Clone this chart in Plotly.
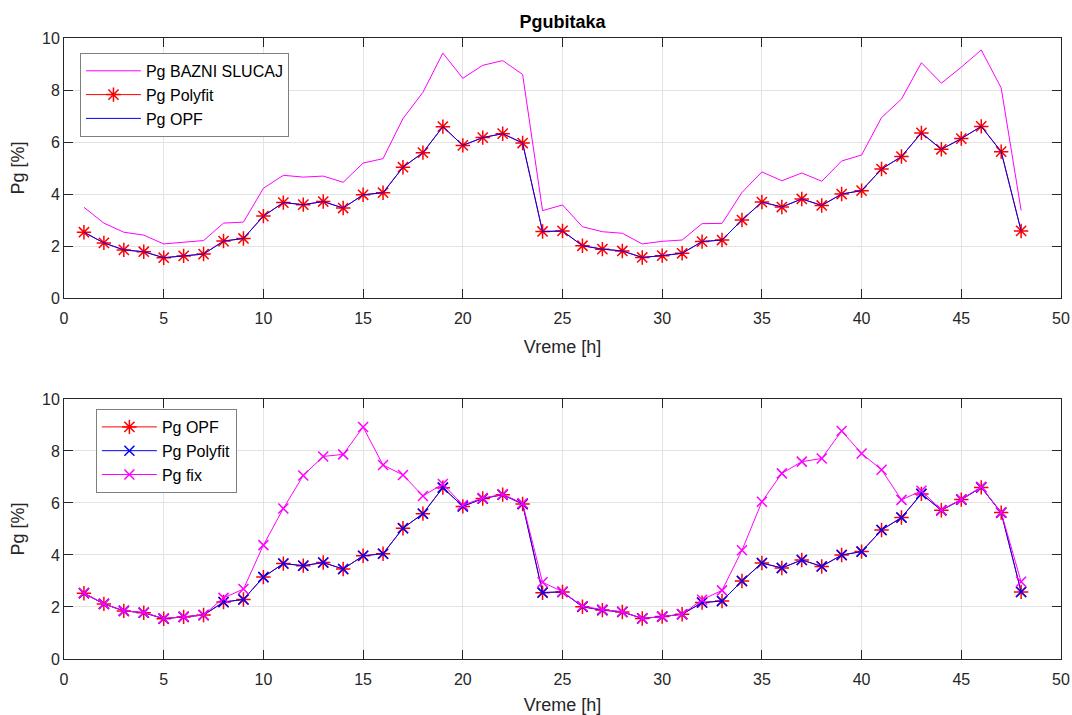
import plotly.graph_objects as go

hours = list(range(1, 49))

pg_bazni = [3.49, 2.88, 2.53, 2.42, 2.08, 2.14, 2.21, 2.88, 2.92, 4.22,
            4.72, 4.65, 4.69, 4.45, 5.19, 5.36, 6.90, 7.91, 9.42, 8.45,
            8.95, 9.13, 8.60, 3.36, 3.58, 2.74, 2.55, 2.49, 2.08, 2.18,
            2.23, 2.86, 2.87, 4.06, 4.85, 4.51, 4.81, 4.49, 5.27, 5.50,
            6.94, 7.65, 9.05, 8.26, 8.88, 9.54, 8.08, 3.37]

pg_opf = [2.53, 2.12, 1.85, 1.78, 1.55, 1.62, 1.69, 2.19, 2.29, 3.15,
          3.67, 3.59, 3.71, 3.46, 3.97, 4.05, 5.03, 5.59, 6.59, 5.87,
          6.17, 6.32, 5.96, 2.55, 2.58, 2.01, 1.88, 1.81, 1.56, 1.63,
          1.72, 2.17, 2.23, 3.00, 3.69, 3.50, 3.81, 3.56, 4.00, 4.13,
          4.96, 5.44, 6.35, 5.72, 6.13, 6.60, 5.63, 2.58]

pg_polyfit = [2.53, 2.12, 1.85, 1.78, 1.55, 1.62, 1.69, 2.19, 2.29, 3.15,
              3.67, 3.59, 3.71, 3.46, 3.97, 4.05, 5.03, 5.59, 6.59, 5.87,
              6.17, 6.32, 5.96, 2.56, 2.58, 2.01, 1.88, 1.81, 1.56, 1.63,
              1.72, 2.17, 2.23, 3.00, 3.69, 3.50, 3.81, 3.56, 4.00, 4.13,
              4.96, 5.44, 6.35, 5.72, 6.13, 6.60, 5.63, 2.58]

pg_fix = [2.54, 2.12, 1.85, 1.79, 1.56, 1.62, 1.69, 2.35, 2.69, 4.38,
          5.79, 7.06, 7.79, 7.87, 8.92, 7.46, 7.08, 6.27, 6.73, 5.92,
          6.19, 6.33, 5.99, 2.95, 2.59, 2.03, 1.90, 1.82, 1.56, 1.63,
          1.72, 2.28, 2.64, 4.18, 6.05, 7.14, 7.59, 7.71, 8.77, 7.90,
          7.28, 6.12, 6.47, 5.73, 6.14, 6.62, 5.64, 2.97]

x_ticks = [0, 5, 10, 15, 20, 25, 30, 35, 40, 45, 50]
y_ticks = [0, 2, 4, 6, 8, 10]

FONT = "Liberation Sans, Arial, sans-serif"
TXT = "#262626"

fig = go.Figure()

# Top panel
fig.add_trace(go.Scatter(x=hours, y=pg_bazni, mode="lines", name="Pg BAZNI SLUCAJ",
                         line=dict(color="#ff00ff", width=1), xaxis="x", yaxis="y", legend="legend"))
fig.add_trace(go.Scatter(x=hours, y=pg_polyfit, mode="lines+markers", name="Pg Polyfit",
                         line=dict(color="#ff0000", width=1),
                         marker=dict(symbol="asterisk-open", size=12, color="#ff0000",
                                     line=dict(width=1.5, color="#ff0000")),
                         xaxis="x", yaxis="y", legend="legend"))
fig.add_trace(go.Scatter(x=hours, y=pg_opf, mode="lines", name="Pg OPF",
                         line=dict(color="#0000ff", width=1), xaxis="x", yaxis="y", legend="legend"))

# Bottom panel
fig.add_trace(go.Scatter(x=hours, y=pg_opf, mode="lines+markers", name="Pg OPF",
                         line=dict(color="#ff0000", width=1),
                         marker=dict(symbol="asterisk-open", size=12, color="#ff0000",
                                     line=dict(width=1.5, color="#ff0000")),
                         xaxis="x2", yaxis="y2", legend="legend2"))
fig.add_trace(go.Scatter(x=hours, y=pg_polyfit, mode="lines+markers", name="Pg Polyfit",
                         line=dict(color="#0000ff", width=1),
                         marker=dict(symbol="x-thin-open", size=10, color="#0000ff",
                                     line=dict(width=1.5, color="#0000ff")),
                         xaxis="x2", yaxis="y2", legend="legend2"))
fig.add_trace(go.Scatter(x=hours, y=pg_fix, mode="lines+markers", name="Pg fix",
                         line=dict(color="#ff00ff", width=1),
                         marker=dict(symbol="x-thin-open", size=10, color="#ff00ff",
                                     line=dict(width=1.5, color="#ff00ff")),
                         xaxis="x2", yaxis="y2", legend="legend2"))

axis_common = dict(
    showline=True, linecolor=TXT, linewidth=1, mirror="ticks",
    ticks="inside", ticklen=9, tickcolor=TXT, tickwidth=1,
    showgrid=True, gridcolor="#e3e3e3", gridwidth=1, zeroline=False,
    tickfont=dict(family=FONT, size=16, color=TXT), automargin=False,
)

xtitle = dict(text="Vreme [h]", font=dict(family=FONT, size=18, color=TXT), standoff=14)
ytitle = dict(text="Pg [%]", font=dict(family=FONT, size=18, color=TXT), standoff=12)

fig.update_layout(
    width=1072, height=715,
    margin=dict(l=64, r=11, t=38, b=56),
    paper_bgcolor="white", plot_bgcolor="white",
    font=dict(family=FONT, color=TXT),
    xaxis=dict(axis_common, domain=[0, 1], anchor="y", range=[0, 50], tickvals=x_ticks,
               ticklabelstandoff=6, title=xtitle),
    yaxis=dict(axis_common, domain=[0.5813, 1], anchor="x", range=[0, 10], tickvals=y_ticks,
               title=ytitle),
    xaxis2=dict(axis_common, domain=[0, 1], anchor="y2", range=[0, 50], tickvals=x_ticks,
                ticklabelstandoff=6, title=xtitle),
    yaxis2=dict(axis_common, domain=[0, 0.4187], anchor="x2", range=[0, 10], tickvals=y_ticks,
                title=ytitle),
    title=dict(text="<b>Pgubitaka</b>", x=0.5, xanchor="center", y=0.97, yanchor="middle",
               xref="paper", font=dict(family=FONT, size=18, color="black")),
    legend=dict(x=0.016, y=0.976, xanchor="left", yanchor="top", bgcolor="white",
                bordercolor="#7f7f7f", borderwidth=1, font=dict(family=FONT, size=16, color="black"),
                tracegroupgap=0, itemwidth=55),
    legend2=dict(x=0.032, y=0.4026, xanchor="left", yanchor="top", bgcolor="white",
                 bordercolor="#7f7f7f", borderwidth=1, font=dict(family=FONT, size=16, color="black"),
                 tracegroupgap=0, itemwidth=55),
    showlegend=True,
)

fig.write_html("out.html")
